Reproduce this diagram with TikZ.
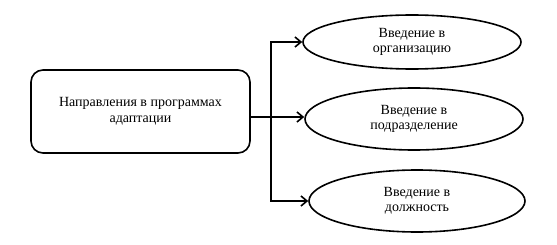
\documentclass[tikz,border=0pt]{standalone}
\usepackage{fontspec}
\setmainfont{Liberation Serif}
\usetikzlibrary{arrows.meta,positioning,shapes.geometric}

\begin{document}
\begin{tikzpicture}[x=1pt, y=1pt,
    mainbox/.style={draw, line width=1.6pt, rounded corners=12pt,
                minimum width=219pt, minimum height=83pt,
                align=center, font=\fontsize{14}{16}\selectfont},
    kind/.style={draw, ellipse, line width=1.6pt, inner sep=0pt,
                align=center, font=\fontsize{14}{15.5}\selectfont},
    link/.style={line width=1.6pt},
    arr/.style={link, -{Straight Barb[length=6pt, width=10pt, line width=1.6pt]}}
  ]
    \useasboundingbox (0,0) rectangle (557,244);

    % Source box
    \node[mainbox] (src) at (140.5, 132.5)
      {Направления в программах\\адаптации};

    % Targets
    \node[kind, minimum width=218pt, minimum height=54pt] (org) at (412, 202)
      {Введение в\\организацию};
    \node[kind, minimum width=218pt, minimum height=62pt] (dep) at (414, 125)
      {Введение в\\подразделение};
    \node[kind, minimum width=216pt, minimum height=62pt] (pos) at (417, 43)
      {Введение в\\должность};

    % Branching
    \coordinate (jn) at (271, 127);
    \draw[link] (src.east |- jn) -- (jn);
    \draw[arr] (jn) |- (org.west);
    \draw[arr] (jn) -- (dep.west |- jn);
    \draw[arr] (jn) |- (pos.west);
  \end{tikzpicture}
\end{document}
